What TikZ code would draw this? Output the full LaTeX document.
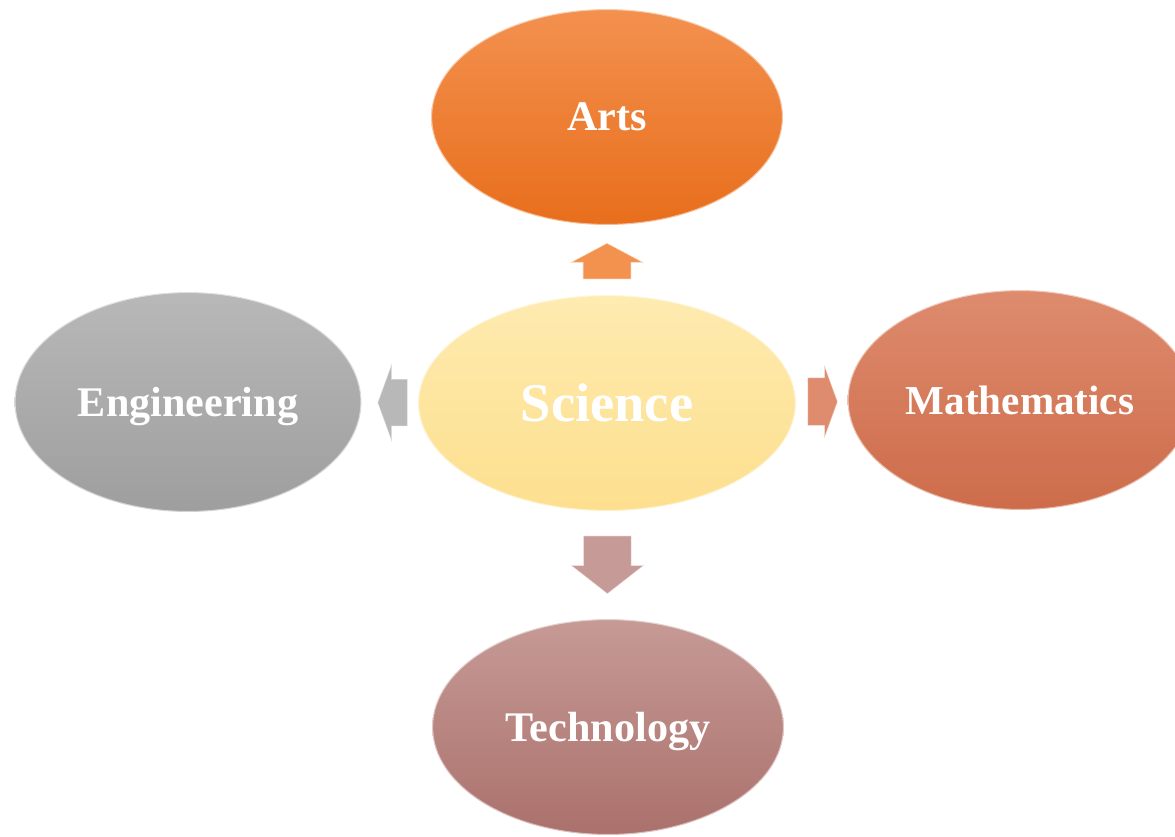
\documentclass[tikz,border=0pt]{standalone}
\usepackage{fontspec}
\setmainfont{Liberation Serif}
\usepackage{tikz}
\usetikzlibrary{shapes,arrows,positioning,calc}
\definecolor{artsA}{HTML}{F3914F}
\definecolor{artsB}{HTML}{E86E1C}
\definecolor{sciA}{HTML}{FEEBB0}
\definecolor{sciB}{HTML}{FDDF8E}
\definecolor{engA}{HTML}{B8B8B8}
\definecolor{engB}{HTML}{9E9E9E}
\definecolor{mathA}{HTML}{DE8B6E}
\definecolor{mathB}{HTML}{CD6C4A}
\definecolor{techA}{HTML}{C69A96}
\definecolor{techB}{HTML}{AB716C}
\tikzset{field node/.style={ellipse,draw=white,draw opacity=.55,line width=1.2pt,
            text=white,font=\bfseries\fontsize{24}{28}\selectfont,text depth=0pt,
            minimum width=7.04cm,minimum height=4.32cm,inner sep=0pt},
         block arrow/.style={single arrow,draw=white,draw opacity=.5,line width=.6pt,
            inner xsep=0pt,inner ysep=.47cm,single arrow head extend=.25cm,minimum width=1.44cm},
         up arrow/.style={block arrow,inner xsep=.47cm,inner ysep=0pt},
            }

\begin{document}
\begin{tikzpicture}[x=0.02cm,y=-0.02cm]

    \clip (0,0) rectangle (1175,836);

    \node[field node,top color=sciA,bottom color=sciB,minimum width=7.56cm,
          font=\bfseries\fontsize{31}{36}\selectfont] (science) at (607,403) {Science};
    \node[field node,top color=artsA,bottom color=artsB] (arts) at (607,117) {Arts};
    \node[field node,top color=engA,bottom color=engB,minimum width=6.94cm,minimum height=4.4cm] (eng) at (188,402) {Engineering};
    \node[field node,top color=mathA,bottom color=mathB,minimum width=6.9cm,minimum height=4.4cm,
          font=\bfseries\fontsize{23.4}{28}\selectfont] (math) at (1020,400) {Mathematics};
    \node[field node,top color=techA,bottom color=techB] (tech) at (608,727) {Technology};

    \node[up arrow,fill=artsA,shape border rotate=90,minimum height=.72cm,
          single arrow tip angle=124] (a1)
        at ($(science.north)!.39!(arts.south)$) {};
    \node[block arrow,fill=engA,shape border rotate=180,minimum height=.6cm,
          inner ysep=.46cm,single arrow head extend=.31cm,single arrow tip angle=140] (a2)
        at ($(science.west)!.37!(eng.east)$) {};
    \node[block arrow,fill=mathA,minimum height=.6cm,
          single arrow tip angle=140] (a3)
        at ($(science.east)!.43!(math.west)$) {};
    \node[up arrow,fill=techA,shape border rotate=270,minimum height=1.16cm,
          single arrow tip angle=104] (a4)
        at ($(science.south)!.41!(tech.north)$) {};

\end{tikzpicture}
\end{document}
